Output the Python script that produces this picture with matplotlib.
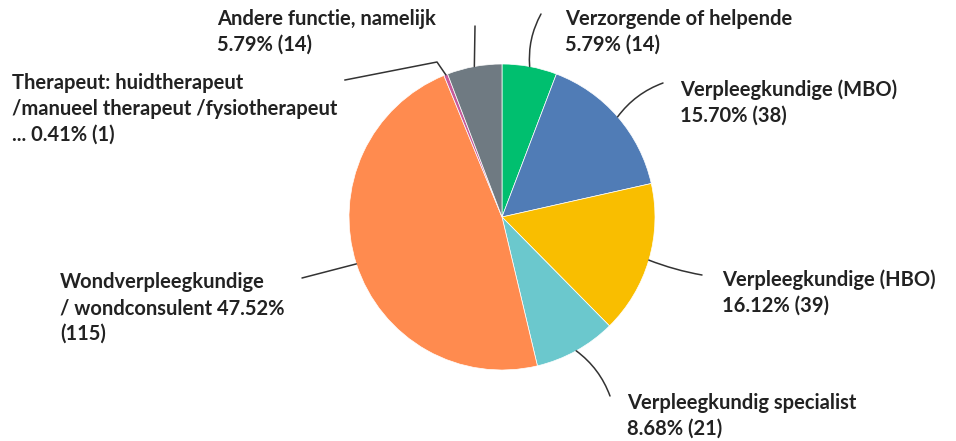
import matplotlib
matplotlib.use("Agg")
import numpy as np
from matplotlib import pyplot as plt

# data
labels = [
    "Verzorgende of helpende",
    "Verpleegkundige (MBO)",
    "Verpleegkundige (HBO)",
    "Verpleegkundig specialist",
    "Wondverpleegkundige\n/ wondconsulent",
    "Therapeut: huidtherapeut\n/manueel therapeut /fysiotherapeut\n...",
    "Andere functie, namelijk",
]
counts = [14, 38, 39, 21, 115, 1, 14]
percents = [5.79, 15.70, 16.12, 8.68, 47.52, 0.41, 5.79]
colors = ["#00bf6f", "#507cb6", "#f9be00", "#6bc8cd", "#ff8b4f", "#c75b9b", "#6f7a82"]

# label layout (pixel coords, top-left of text) and connector start point
label_pos = [(565, 9), (680, 79), (722, 269), (627, 393), (60, 272), (12, 73), (217, 9)]
line_start = [(541, 14), (663, 83), (702, 275), (610, 396), (302, 278), (345, 80), (475, 26)]
line_rad = [0.15, 0.15, -0.05, 0.15, 0.0, 0.0, 0.0]

W, H = 956, 441
cx, cy, R = 502, 217, 153

plt.rcParams['font.family'] = ['Lato', 'DejaVu Sans']
fig = plt.figure(figsize=(W / 100, H / 100), dpi=100)
ax = fig.add_axes([0, 0, 1, 1])

wedges, _ = ax.pie(counts, colors=colors, startangle=90, counterclock=False,
                   center=(cx, H - cy), radius=R,
                   wedgeprops=dict(edgecolor='white', linewidth=0.5))
ax.set_xlim(0, W)
ax.set_ylim(0, H)
ax.set_aspect('equal')
ax.axis('off')

for i, w in enumerate(wedges):
    ang = np.deg2rad((w.theta1 + w.theta2) / 2)
    px = cx + R * np.cos(ang)
    py = (H - cy) + R * np.sin(ang)
    sx, sy = line_start[i]
    if i == 5:
        ax.plot([sx, 437, px], [H - sy, H - 62, py], color='#333333', lw=1.1)
    else:
        ax.annotate("", xy=(px, py), xytext=(sx, H - sy),
                    arrowprops=dict(arrowstyle='-', color='#333333', lw=1.1,
                                    shrinkA=0, shrinkB=0,
                                    connectionstyle=f"arc3,rad={line_rad[i]}"))
    if i == 4:
        txt = f"{labels[i]} {percents[i]:.2f}%\n({counts[i]})"
    elif i == 5:
        txt = f"{labels[i]} {percents[i]:.2f}% ({counts[i]})"
    else:
        txt = f"{labels[i]}\n{percents[i]:.2f}% ({counts[i]})"
    lx, ly = label_pos[i]
    ax.text(lx, H - ly, txt, ha='left', va='top', fontsize=14.5,
            fontweight='bold', color='#222222', linespacing=1.38)

fig.savefig("out.png", dpi=100)
